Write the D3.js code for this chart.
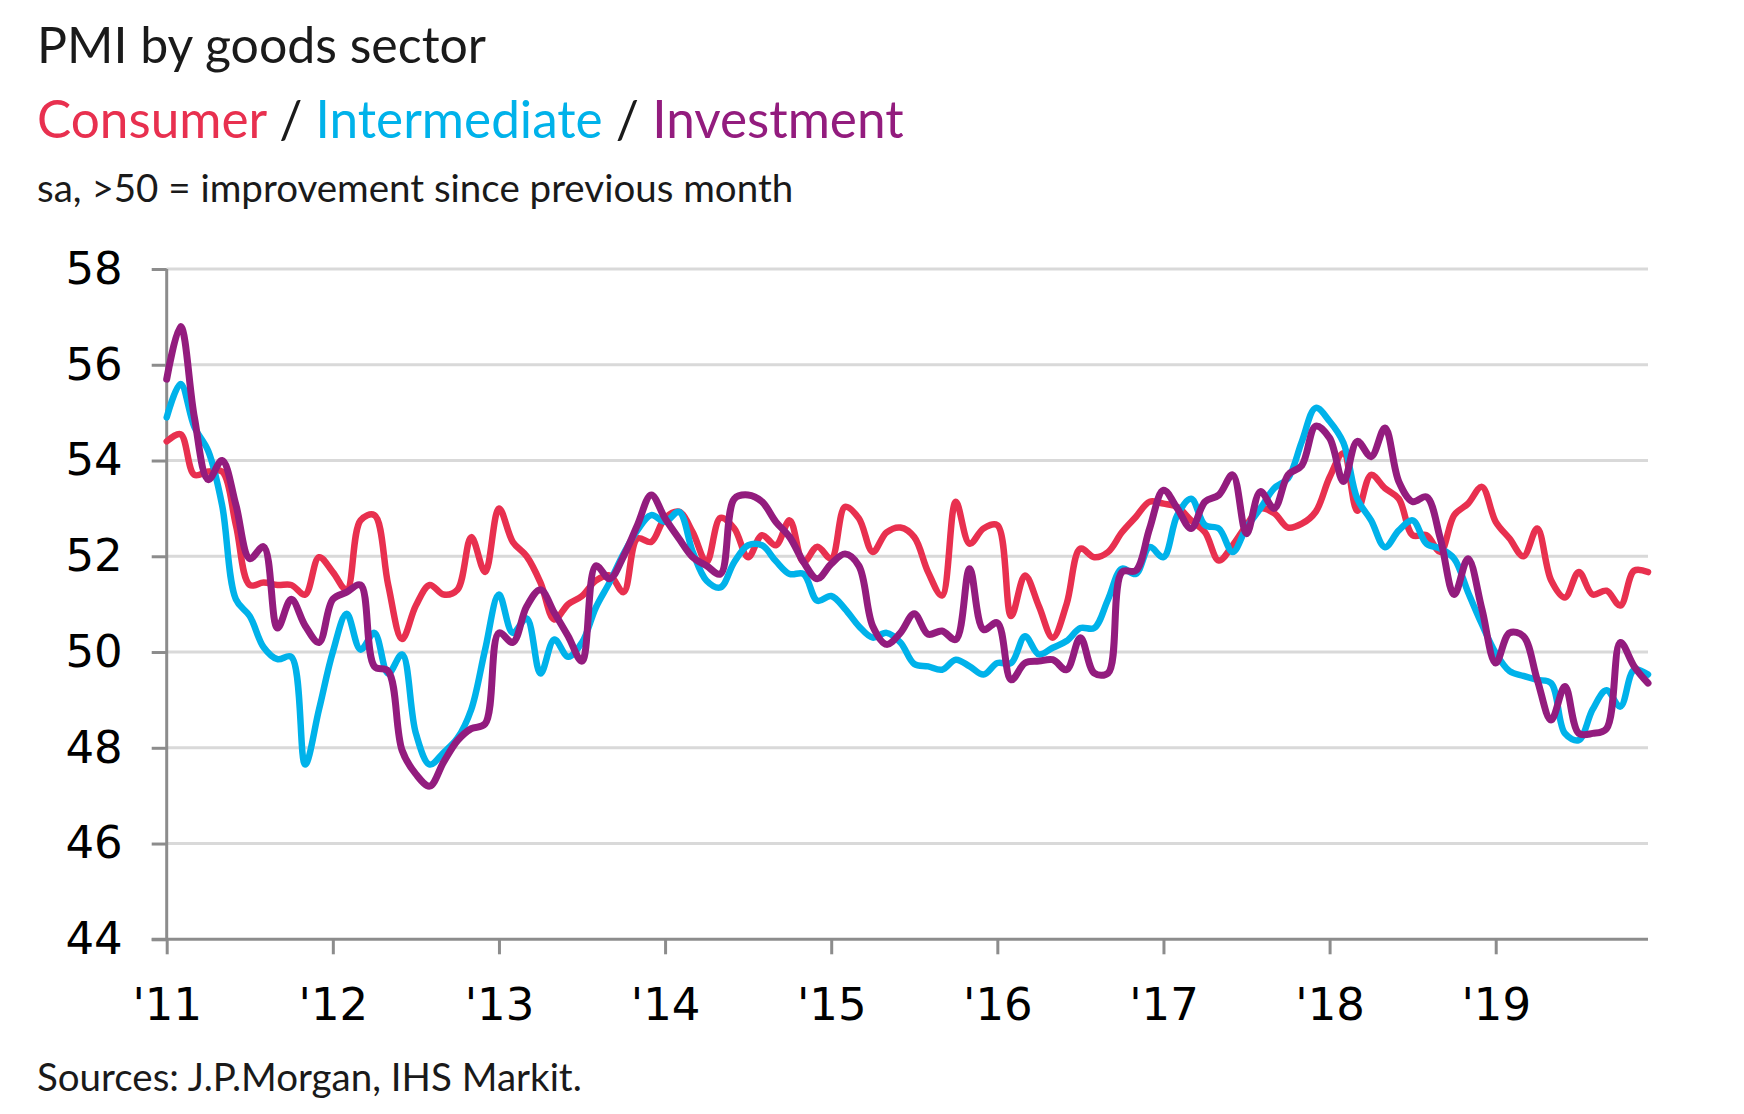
<!DOCTYPE html>
<html>
<head>
<meta charset="utf-8">
<script src="https://cdn.jsdelivr.net/npm/d3@7"></script>
<style>
  body { margin: 0; background: #fff; }
  .title { font-family: Lato, sans-serif; }
  .axis text { font-family: "DejaVu Sans", sans-serif; }
</style>
</head>
<body>
<div class="myViz"></div>
<script>
// year tick labels, one per January
var yearLabels = ["'11", "'12", "'13", "'14", "'15", "'16", "'17", "'18", "'19"];
var yTicks = [44, 46, 48, 50, 52, 54, 56, 58];

// monthly PMI readings, Jan 2011 .. Dec 2019
var consumer = [
  54.4, 54.55, 53.7, 53.77, 53.77, 52.65, 51.4, 51.45, 51.4, 51.4, 51.2, 51.98,
  51.67, 51.3, 52.75, 52.86, 51.4, 50.27, 50.97, 51.4, 51.2, 51.3, 52.4, 51.67,
  53.0, 52.3, 52.0, 51.45, 50.68, 51.0, 51.17, 51.49, 51.6, 51.25, 52.37, 52.3,
  52.8, 52.93, 52.5, 51.88, 52.8, 52.58, 51.98, 52.44, 52.23, 52.75, 51.88, 52.2,
  51.95, 53.03, 52.79, 52.09, 52.5, 52.6, 52.4, 51.67, 51.18, 53.14, 52.26, 52.58,
  52.65, 50.75, 51.6, 50.96, 50.3, 51.0, 52.16, 51.98, 52.09, 52.5, 52.82, 53.14,
  53.1, 53.03, 52.75, 52.5, 51.91, 52.23, 52.65, 53.0, 52.9, 52.6, 52.68, 52.93,
  53.65, 54.15, 52.95, 53.7, 53.42, 53.2, 52.44, 52.44, 52.09, 52.86, 53.1, 53.45,
  52.72, 52.37, 52.0, 52.58, 51.5, 51.14, 51.67, 51.2, 51.28, 50.97, 51.7, 51.67
];
var intermediate = [
  54.9, 55.6, 54.7, 54.2, 53.07, 51.1, 50.75, 50.1, 49.85, 49.9, 47.65, 48.8,
  50.0, 50.8, 50.05, 50.4, 49.55, 49.95, 48.3, 47.65, 47.9, 48.2, 48.8, 50.05,
  51.2, 50.4, 50.7, 49.55, 50.26, 49.9, 50.2, 50.93, 51.46, 52.05, 52.54, 52.86,
  52.72, 52.93, 52.09, 51.49, 51.35, 51.88, 52.23, 52.23, 51.9, 51.63, 51.63, 51.07,
  51.17, 50.9, 50.54, 50.3, 50.4, 50.2, 49.75, 49.7, 49.63, 49.84, 49.7, 49.53,
  49.77, 49.77, 50.33, 49.95, 50.09, 50.23, 50.5, 50.5, 51.1, 51.74, 51.63, 52.19,
  51.98, 52.86, 53.2, 52.65, 52.58, 52.09, 52.6, 53.0, 53.42, 53.63, 54.4, 55.1,
  54.82, 54.37, 53.2, 52.75, 52.19, 52.54, 52.75, 52.26, 52.16, 51.95, 51.25, 50.58,
  49.98, 49.6, 49.5, 49.42, 49.35, 48.3, 48.16, 48.8, 49.2, 48.86, 49.63, 49.53
];
var investment = [
  55.7, 56.8, 54.9, 53.6, 54.0, 53.07, 51.95, 52.2, 50.5, 51.1, 50.55, 50.2,
  51.1, 51.25, 51.4, 49.7, 49.6, 47.95, 47.45, 47.2, 47.7, 48.15, 48.4, 48.5,
  50.4, 50.2, 50.95, 51.3, 50.82, 50.33, 49.81, 51.8, 51.53, 52.0, 52.65, 53.28,
  52.79, 52.37, 51.98, 51.8, 51.63, 53.2, 53.28, 53.14, 52.72, 52.4, 51.88, 51.53,
  51.84, 52.05, 51.8, 50.54, 50.16, 50.4, 50.8, 50.37, 50.44, 50.26, 51.74, 50.47,
  50.61, 49.42, 49.77, 49.81, 49.84, 49.63, 50.3, 49.56, 49.56, 51.67, 51.7, 52.58,
  53.38, 53.0, 52.58, 53.14, 53.28, 53.7, 52.47, 53.35, 53.0, 53.7, 53.9, 54.72,
  54.47, 53.56, 54.4, 54.08, 54.68, 53.56, 53.14, 53.24, 52.37, 51.2, 51.95, 50.9,
  49.77, 50.4, 50.33, 49.42, 48.58, 49.28, 48.3, 48.3, 48.4, 50.2, 49.7, 49.35
];

var colors = { consumer: "#e8304f", intermediate: "#00b2ea", investment: "#931c7e" };

var width = 1744, height = 1114;
var plot = { left: 166.7, right: 1648, top: 269, bottom: 939.3 };

var svg = d3.select(".myViz")
  .append("svg")
  .attr("width", width)
  .attr("height", height);

// headings
svg.append("text")
  .attr("class", "title")
  .attr("x", 37).attr("y", 63)
  .style("font-size", "50px")
  .style("fill", "#1a1a1a")
  .text("PMI by goods sector");

var legend = svg.append("text")
  .attr("class", "title")
  .attr("x", 37).attr("y", 138)
  .style("font-size", "51.3px");
legend.append("tspan").style("fill", colors.consumer).text("Consumer");
legend.append("tspan").style("fill", "#1a1a1a").text(" / ");
legend.append("tspan").style("fill", colors.intermediate).text("Intermediate");
legend.append("tspan").style("fill", "#1a1a1a").text(" / ");
legend.append("tspan").style("fill", colors.investment).text("Investment");

svg.append("text")
  .attr("class", "title")
  .attr("x", 37).attr("y", 202)
  .style("font-size", "38.5px")
  .style("fill", "#1a1a1a")
  .text("sa, >50 = improvement since previous month");

svg.append("text")
  .attr("class", "title")
  .attr("x", 37).attr("y", 1091)
  .style("font-size", "38.5px")
  .style("fill", "#1a1a1a")
  .text("Sources: J.P.Morgan, IHS Markit.");

// scales
var x = d3.scaleLinear()
  .domain([0, consumer.length - 1])
  .range([plot.left, plot.right]);

var y = d3.scaleLinear()
  .domain([44, 58])
  .range([plot.bottom, plot.top]);

// horizontal gridlines
svg.append("g")
  .selectAll("line")
  .data(yTicks.filter(d => d > 44))
  .enter()
  .append("line")
  .attr("x1", plot.left).attr("x2", plot.right)
  .attr("y1", d => y(d)).attr("y2", d => y(d))
  .style("stroke", "#d9d9d9")
  .style("stroke-width", 3);

// y axis
var yAxis = svg.append("g")
  .attr("class", "axis")
  .attr("transform", `translate(${plot.left},0)`)
  .call(d3.axisLeft(y).tickValues(yTicks).tickSize(15).tickPadding(29).tickFormat(d3.format("d")));

// x axis
var xAxis = svg.append("g")
  .attr("class", "axis")
  .attr("transform", `translate(0,${plot.bottom})`)
  .call(d3.axisBottom(x)
    .tickValues(yearLabels.map((d, i) => i * 12))
    .tickFormat((d, i) => yearLabels[i])
    .tickSize(15)
    .tickPadding(34));

[yAxis, xAxis].forEach(function(g) {
  g.select(".domain").style("stroke", "#8c8c8c").style("stroke-width", 3);
  g.selectAll(".tick line").style("stroke", "#8c8c8c").style("stroke-width", 3);
  g.selectAll(".tick text")
    .style("font-size", "45px")
    .style("fill", "#000");
});
xAxis.select(".domain").attr("d", `M${plot.left - 15},0H${plot.right}`);
yAxis.select(".domain").attr("d", `M0,${plot.top}V${plot.bottom}`);

// the three series, purple on top
var line = d3.line()
  .x((d, i) => x(i))
  .y(d => y(d))
  .curve(d3.curveCatmullRom.alpha(0.5));

[[consumer, colors.consumer, 6.5], [intermediate, colors.intermediate, 6.5], [investment, colors.investment, 7]]
  .forEach(function(s) {
    svg.append("path")
      .datum(s[0])
      .attr("d", line)
      .style("fill", "none")
      .style("stroke", s[1])
      .style("stroke-width", s[2])
      .style("stroke-linejoin", "round")
      .style("stroke-linecap", "round");
  });
</script>
</body>
</html>
